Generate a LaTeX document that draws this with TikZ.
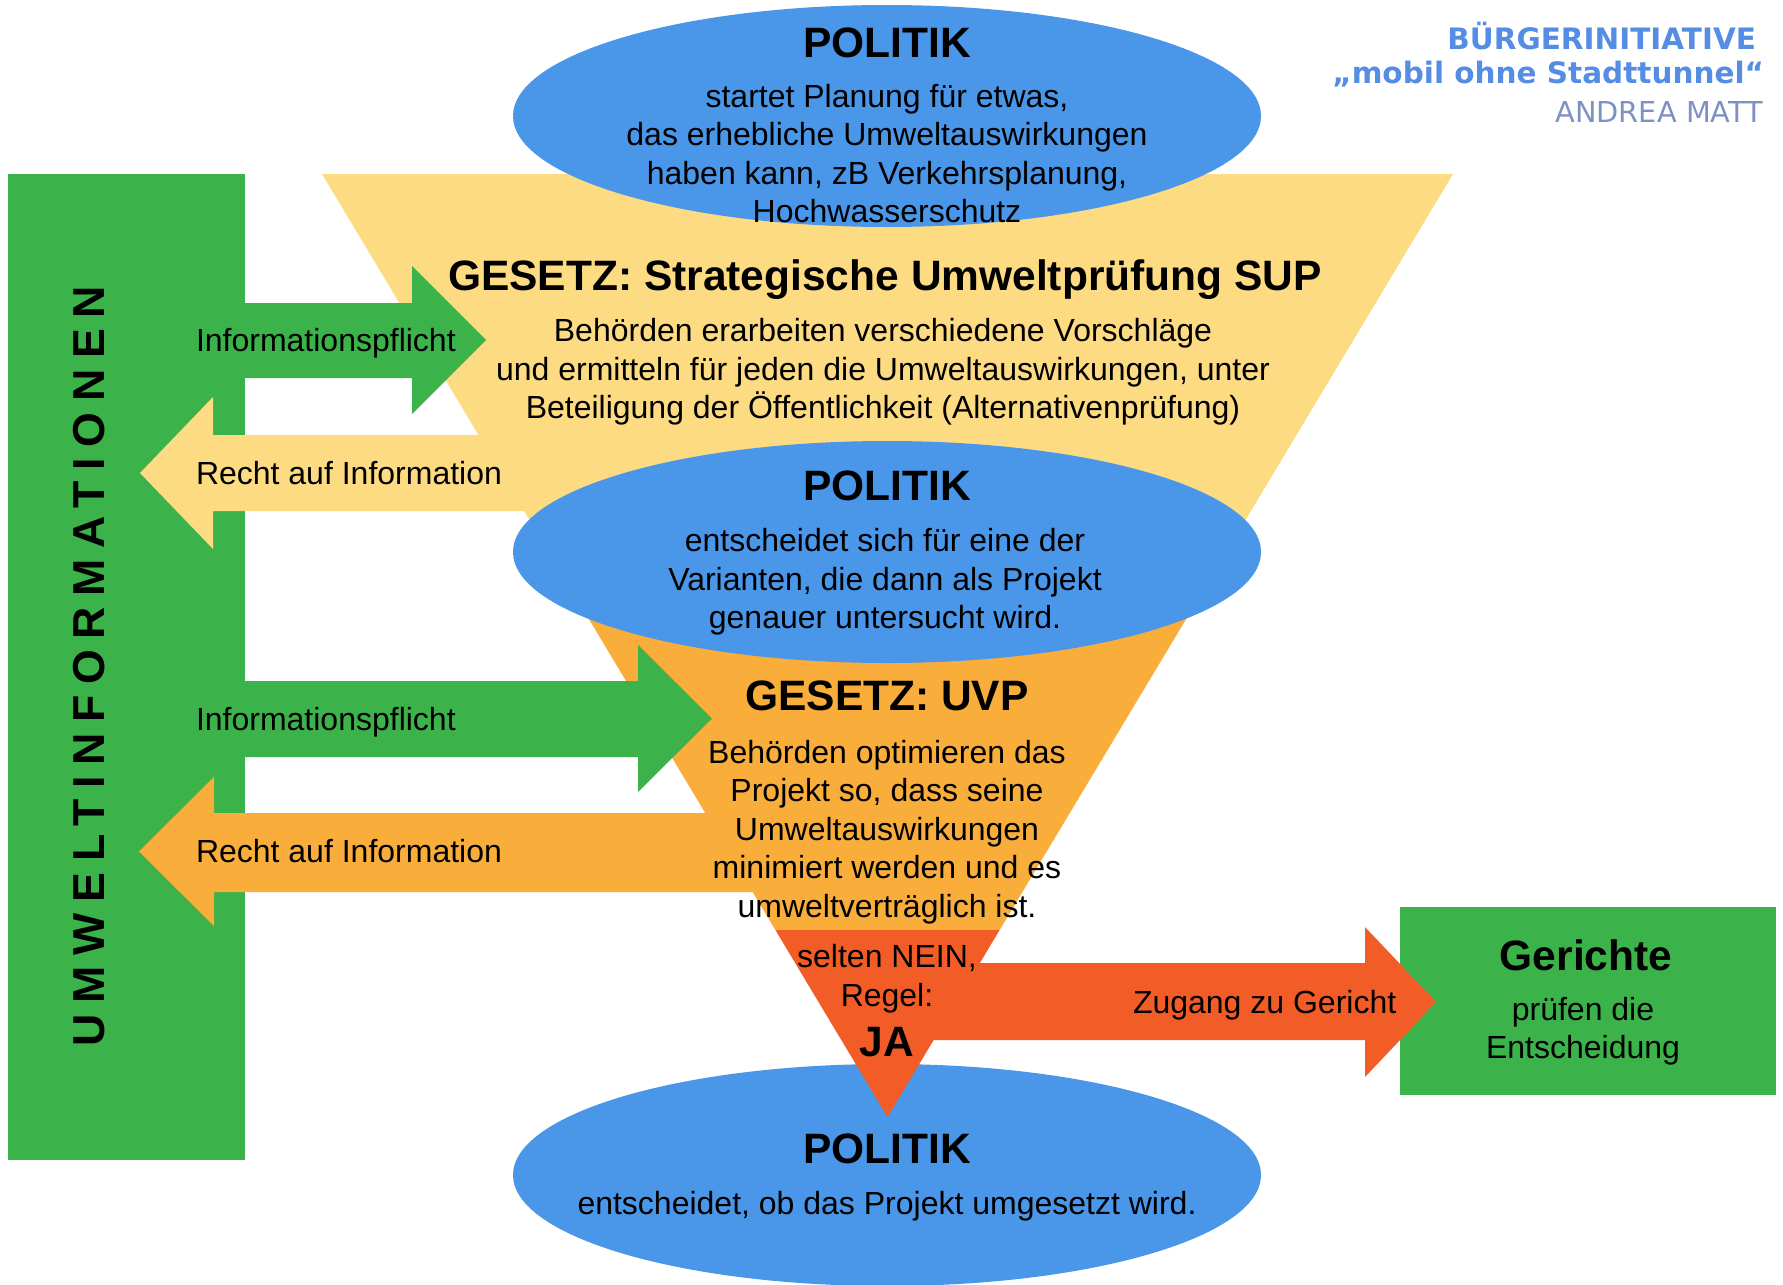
\documentclass[tikz,border=0pt]{standalone}
\usepackage{fontspec}
\setmainfont{Liberation Sans}
\newfontfamily\wmfont{DejaVu Sans}
\newfontfamily\vertfont[LetterSpace=24]{Liberation Sans Bold}
\usetikzlibrary{shapes.geometric}
\definecolor{pblue}{RGB}{74,150,232}
\definecolor{pgreen}{RGB}{60,178,74}
\definecolor{pyellow}{RGB}{253,219,130}
\definecolor{porange}{RGB}{249,174,59}
\definecolor{pred}{RGB}{242,92,38}
\definecolor{wmblue}{RGB}{85,140,228}
\definecolor{wmgray}{RGB}{125,145,195}
\begin{document}
\begin{tikzpicture}[x=1pt,y=-1pt,
  every node/.style={inner sep=0pt,outer sep=0pt},
  body/.style={font=\fontsize{32}{38.5}\selectfont,align=center,anchor=base},
  ttl/.style={font=\fontsize{42.5}{50}\selectfont\bfseries,anchor=base},
  side/.style={font=\fontsize{32}{38.5}\selectfont,anchor=base west},
  blob/.style={ellipse,fill=pblue,minimum width=748pt,minimum height=222pt},
  wm/.style={anchor=base east,font=\fontsize{29.5}{33}\selectfont\wmfont}]
\useasboundingbox[fill=white] (0,0) rectangle (1783,1285);

% left green column
\fill[pgreen] (8,174) rectangle (245,1160);
\node[rotate=90,font=\fontsize{44.7}{50}\vertfont] (umw) at (89,666) {UMWELTINFORMATIONEN};

% bottom ellipse
\node[blob] (pol3) at (887,1175) {};

% funnel triangle with bands
\coordinate (tl) at (322,174);
\coordinate (tr) at (1453,174);
\coordinate (apex) at (887.5,1117);
\begin{scope}
  \clip (tl) -- (tr) -- (apex) -- cycle;
  \fill[pyellow] (0,170) rectangle (1783,552);
  \fill[porange] (0,552) rectangle (1783,930);
  \fill[pred] (0,930) rectangle (1783,1120);
\end{scope}

% left arrows into the green column
\fill[pyellow] (560,435) -- (213,435) -- (213,397) -- (140,473) -- (213,549) -- (213,511) -- (560,511) -- cycle;
\fill[porange] (760,813) -- (214,813) -- (214,777) -- (139,851.5) -- (214,926) -- (214,892) -- (760,892) -- cycle;

% green arrows from the column
\fill[pgreen] (240,303) -- (412,303) -- (412,266) -- (486,340) -- (412,414) -- (412,378) -- (240,378) -- cycle;
\fill[pgreen] (240,681) -- (638,681) -- (638,645) -- (712,718.5) -- (638,792) -- (638,757) -- (240,757) -- cycle;

% courts box and arrow
\node[fill=pgreen,minimum width=376pt,minimum height=188pt] (ger) at (1588,1001) {};
\fill[pred] (887,963) -- (1365,963) -- (1365,927) -- (1436,1002) -- (1365,1077) -- (1365,1040) -- (887,1040) -- cycle;

% ellipses
\node[blob] (pol2) at (887,552) {};
\node[blob] (pol1) at (887,116) {};

% texts (base anchor = baseline of the last line)
\node[ttl] (t1) at (887,57) {POLITIK};
\node[body] (b1) at (887,222.5) {startet Planung für etwas,\\das erhebliche Umweltauswirkungen\\haben kann, zB Verkehrsplanung,\\Hochwasserschutz};
\node[ttl] (t2) at (885,290) {GESETZ: Strategische Umweltprüfung SUP};
\node[body] (b2) at (883,418.5) {Behörden erarbeiten verschiedene Vorschläge\\und ermitteln für jeden die Umweltauswirkungen, unter\\Beteiligung der Öffentlichkeit (Alternativenprüfung)};
\node[ttl] (t3) at (887,500.5) {POLITIK};
\node[body] (b3) at (885,628.5) {entscheidet sich für eine der\\Varianten, die dann als Projekt\\genauer untersucht wird.};
\node[ttl] (t4) at (887,710) {GESETZ: UVP};
\node[body] (b4) at (887,917) {Behörden optimieren das\\Projekt so, dass seine\\Umweltauswirkungen\\minimiert werden und es\\umweltverträglich ist.};
\node[body] (b5) at (887,1006) {selten NEIN,\\Regel:};
\node[ttl] (ja) at (887,1056.5) {JA};
\node[side] (zug) at (1133,1013.5) {Zugang zu Gericht};
\node[ttl] (t6) at (1586,970) {Gerichte};
\node[body] (b6) at (1583,1058.5) {prüfen die\\Entscheidung};
\node[ttl] (t5) at (887,1163) {POLITIK};
\node[body] (b7) at (887,1214.5) {entscheidet, ob das Projekt umgesetzt wird.};

\node[side] (ip1) at (196,351.5) {Informationspflicht};
\node[side] (ri1) at (196,484.5) {Recht auf Information};
\node[side] (ip2) at (196,730) {Informationspflicht};
\node[side] (ri2) at (196,862) {Recht auf Information};

% watermark
\node[wm,text=wmblue,font=\fontsize{29.5}{33}\selectfont\wmfont\bfseries] (w1) at (1756,49) {BÜRGERINITIATIVE};
\node[wm,text=wmblue,font=\fontsize{29.5}{33}\selectfont\wmfont\bfseries] (w2) at (1764,83) {„mobil ohne Stadttunnel“};
\node[wm,text=wmgray,font=\fontsize{28.8}{33}\selectfont\wmfont] (w3) at (1763,122) {ANDREA MATT};
\end{tikzpicture}
\end{document}
